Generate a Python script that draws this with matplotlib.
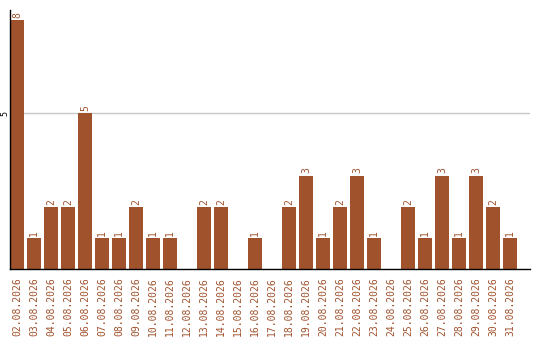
import matplotlib
matplotlib.use("Agg")
import matplotlib.pyplot as plt

# daily counts for August 2026
days = ["%02d.08.2026" % d for d in range(2, 32)]
counts = [8, 1, 2, 2, 5, 1, 1, 2, 1, 1, 0, 2, 2, 0, 1, 0, 2, 3, 1, 2, 3, 1, 0, 2, 1, 3, 1, 3, 2, 1]

bar_color = "#A0522D"
font = "DejaVu Sans Mono"

fig = plt.figure(figsize=(5.4, 3.4), dpi=100)
ax = fig.add_axes([10 / 540, 1 - 269 / 340, 520 / 540, 259 / 340])

x = list(range(len(days)))
ax.bar(x, counts, width=14 / 17, color=bar_color, zorder=2)

# value labels above the bars
for xi, c in zip(x, counts):
    if c > 0:
        ax.text(xi, c + 0.07, str(c), rotation=90, ha="center", va="bottom",
                color=bar_color, fontsize=7, family=font)

ax.set_xlim(-7 / 17, 513 / 17)
ax.set_ylim(0, 8.32)
ax.set_xticks(x)
ax.set_xticklabels(days, rotation=90, color=bar_color, fontsize=7, family=font)
ax.set_yticks([5])
ax.set_yticklabels(["5"], rotation=90, va="center", fontsize=6, family=font)
ax.tick_params(length=0, pad=6)
ax.tick_params(axis="y", pad=0.5)
ax.grid(axis="y", color="#c8c8c8", linewidth=1, zorder=1)

for side in ["top", "right"]:
    ax.spines[side].set_visible(False)
for side in ["left", "bottom"]:
    ax.spines[side].set_linewidth(1)
    ax.spines[side].set_color("black")
ax.spines["bottom"].set_zorder(3)

fig.savefig("out.png", dpi=100)
